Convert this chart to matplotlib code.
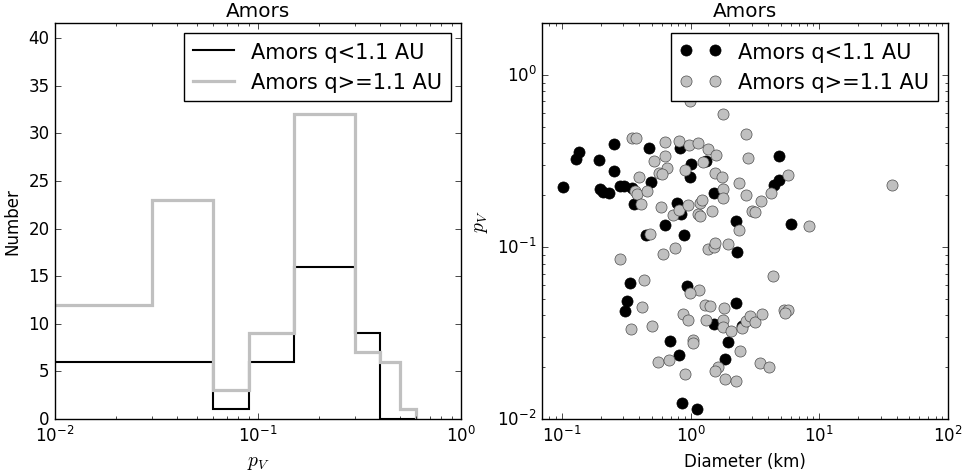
"""
Amors: albedo histogram and albedo vs diameter
"""

import matplotlib
matplotlib.use('Agg')
import matplotlib.pyplot as plt

# histogram of p_V (bin edges and counts)
bin_edges = [0.001, 0.03, 0.06, 0.09, 0.15, 0.3, 0.4, 0.5, 0.6]
counts_low_q = [6, 6, 1, 6, 16, 9, 0, 0]
counts_high_q = [12, 23, 3, 9, 32, 7, 6, 1]

# diameter (km) and p_V, q < 1.1 AU
diam_low_q = [0.102, 0.129, 0.136, 0.195, 0.254, 0.254, 0.198, 0.207, 0.233, 0.281,
              0.305, 0.350, 0.364, 0.477, 0.492, 0.834, 1.00, 1.32, 0.982, 0.783,
              0.849, 0.631, 0.452, 0.887, 1.52, 2.24, 4.82, 4.87, 4.41, 5.98,
              2.29, 0.336, 0.944, 0.319, 0.311, 2.24, 1.52, 2.49, 0.697, 1.96,
              0.819, 1.85, 0.861, 1.12]
pv_low_q = [0.223, 0.325, 0.355, 0.318, 0.396, 0.275, 0.216, 0.209, 0.207, 0.225,
            0.227, 0.220, 0.178, 0.375, 0.239, 0.374, 0.302, 0.314, 0.254, 0.180,
            0.155, 0.134, 0.117, 0.118, 0.205, 0.141, 0.337, 0.245, 0.228, 0.135,
            0.094, 0.0615, 0.0596, 0.0482, 0.0422, 0.0471, 0.0357, 0.0349, 0.0285, 0.0282,
            0.0237, 0.0222, 0.0124, 0.0115]

# diameter (km) and p_V, q >= 1.1 AU
diam_high_q = [0.988, 1.79, 0.348, 0.376, 0.631, 0.815, 0.967, 1.15, 1.37, 1.57,
               2.70, 2.77, 0.631, 0.519, 0.651, 0.565, 0.595, 0.395, 0.906, 1.24,
               1.55, 1.75, 2.36, 5.67, 36.7, 0.369, 0.381, 0.455, 0.411, 0.590,
               0.733, 0.815, 0.958, 1.15, 1.18, 1.22, 1.18, 1.46, 1.79, 1.77,
               2.70, 3.53, 4.20, 2.98, 3.19, 2.36, 8.36, 0.483, 0.284, 0.610,
               0.762, 1.36, 1.52, 1.56, 1.96, 0.435, 4.33, 1.17, 0.993, 0.417,
               1.29, 1.42, 1.82, 0.871, 0.958, 1.31, 1.80, 1.79, 2.05, 2.49,
               2.71, 2.91, 3.19, 3.60, 5.35, 5.72, 5.45, 0.344, 0.498, 1.04,
               1.04, 2.44, 0.560, 0.681, 1.63, 1.54, 0.898, 3.43, 4.07, 1.85,
               2.25]
pv_high_q = [0.704, 0.593, 0.428, 0.428, 0.406, 0.415, 0.392, 0.402, 0.371, 0.340,
             0.454, 0.328, 0.337, 0.315, 0.287, 0.269, 0.267, 0.254, 0.279, 0.312,
             0.270, 0.254, 0.236, 0.260, 0.228, 0.211, 0.203, 0.210, 0.178, 0.171,
             0.154, 0.163, 0.175, 0.155, 0.180, 0.188, 0.152, 0.161, 0.217, 0.192,
             0.199, 0.185, 0.206, 0.161, 0.159, 0.126, 0.133, 0.119, 0.0855, 0.0910,
             0.0983, 0.0973, 0.0996, 0.105, 0.104, 0.0645, 0.0676, 0.0562, 0.0538, 0.0450,
             0.0461, 0.0454, 0.0440, 0.0408, 0.0374, 0.0375, 0.0378, 0.0341, 0.0324, 0.0340,
             0.0369, 0.0395, 0.0365, 0.0408, 0.0431, 0.0432, 0.0415, 0.0335, 0.0346, 0.0288,
             0.0276, 0.0248, 0.0215, 0.0220, 0.0201, 0.0191, 0.0183, 0.0212, 0.0200, 0.0171,
             0.0166]

label_low = 'Amors q<1.1 AU'
label_high = 'Amors q>=1.1 AU'

plt.style.use('classic')
plt.rcParams['figure.facecolor'] = 'white'
plt.rcParams['savefig.facecolor'] = 'white'

fig, (ax1, ax2) = plt.subplots(1, 2, figsize=(9.66, 4.77), dpi=100)
fig.subplots_adjust(left=55/966, right=948/966, bottom=1 - 420/477,
                    top=1 - 24/477, wspace=0.1995)

# left: histogram of albedo
ax1.stairs(counts_low_q, bin_edges, color='black', linewidth=1.5, label=label_low)
ax1.stairs(counts_high_q, bin_edges, color='silver', linewidth=2.3, label=label_high)
ax1.set_xscale('log')
ax1.set_xlim(0.01, 1)
ax1.set_ylim(0, 41.6)
ax1.set_xlabel('$p_V$', fontsize=14)
ax1.set_ylabel('Number')
ax1.set_title('Amors', fontsize=14.4)
ax1.legend(loc='upper right', fontsize=15)

# right: albedo vs diameter
ax2.plot(diam_low_q, pv_low_q, 'o', color='black', markersize=8, label=label_low)
ax2.plot(diam_high_q, pv_high_q, 'o', color='silver', markeredgecolor='0.3',
         markersize=8, label=label_high)
ax2.set_xscale('log')
ax2.set_yscale('log')
ax2.set_xlim(0.07, 100)
ax2.set_ylim(0.01, 2)
ax2.set_xlabel('Diameter (km)')
ax2.set_ylabel('$p_V$', fontsize=14)
ax2.set_title('Amors', fontsize=14.4)
ax2.legend(loc='upper right', fontsize=15)

fig.savefig('out.png', dpi=100)
